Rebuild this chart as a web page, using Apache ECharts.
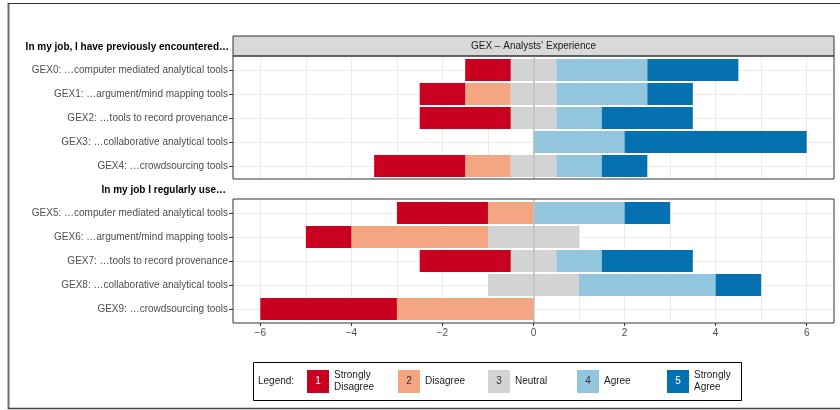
<!DOCTYPE html>
<html>
<head>
<meta charset="utf-8">
<script src="https://cdn.jsdelivr.net/npm/echarts@6/dist/echarts.min.js"></script>
<style>
html, body { margin: 0; padding: 0; background: #fff; }
#chart { width: 840px; height: 410px; }
</style>
</head>
<body>
<div id="chart"></div>
<script>
// question labels, one list per panel
var topItems = [
	'GEX0: …computer mediated analytical tools',
	'GEX1: …argument/mind mapping tools',
	'GEX2: …tools to record provenance',
	'GEX3: …collaborative analytical tools',
	'GEX4: …crowdsourcing tools'
];
var bottomItems = [
	'GEX5: …computer mediated analytical tools',
	'GEX6: …argument/mind mapping tools',
	'GEX7: …tools to record provenance',
	'GEX8: …collaborative analytical tools',
	'GEX9: …crowdsourcing tools'
];
var topHeader = 'In my job, I have previously encountered…';
var bottomHeader = 'In my job I regularly use…';
var stripTitle = 'GEX – Analysts\u2019 Experience';

// answer counts per level (1..5)
var topSD = [1, 1, 2, 0, 2];
var topD  = [0, 1, 0, 0, 1];
var topN  = [1, 1, 1, 0, 1];
var topA  = [2, 2, 1, 2, 1];
var topSA = [2, 1, 2, 4, 1];

var botSD = [2, 1, 2, 0, 3];
var botD  = [1, 3, 0, 0, 3];
var botN  = [0, 2, 1, 2, 0];
var botA  = [2, 0, 1, 3, 0];
var botSA = [1, 0, 2, 1, 0];

var levelNames = ['Strongly Disagree', 'Disagree', 'Neutral', 'Agree', 'Strongly Agree'];
var legendTexts = ['Strongly\nDisagree', 'Disagree', 'Neutral', 'Agree', 'Strongly\nAgree'];
var levelColors = ['#CA0020', '#F4A582', '#D3D3D3', '#92C5DE', '#0571B0'];

var xTicks = [-6, -4, -2, 0, 2, 4, 6];
var xGridVals = [-6, -5, -4, -3, -2, -1, 0, 1, 2, 3, 4, 5, 6];
var yGridVals = [0, 1, 2, 3, 4];

var FONT = '"Liberation Sans", Arial, sans-serif';
var FS = 10;
var PL = 233, PW = 601;
// panel = bordered box, grid = band area used by the axes (24px per row)
var panels = [
	{ top: 56, bottom: 179, gridTop: 58, gridH: 120 },
	{ top: 199, bottom: 323, gridTop: 201, gridH: 120 }
];

function minus(v) { return v < 0 ? '\u2212' + (-v) : '' + v; }
function neg(arr) { return arr.map(function (v) { return -v; }); }
function half(arr, s) { return arr.map(function (v) { return s * v / 2; }); }

function panelSeries(p, sd, d, n, a, sa) {
	var ax = p * 2;
	function bar(li, vals) {
		return {
			type: 'bar',
			name: levelNames[li],
			xAxisIndex: ax,
			yAxisIndex: ax,
			stack: 'p' + p,
			barWidth: 22,
			itemStyle: { color: levelColors[li] },
			data: vals
		};
	}
	var list = [
		bar(2, half(n, -1)),
		bar(1, neg(d)),
		bar(0, neg(sd)),
		bar(2, half(n, 1)),
		bar(3, a),
		bar(4, sa)
	];
	// zero reference line, drawn over the bars
	list[5].markLine = {
		silent: true,
		symbol: 'none',
		label: { show: false },
		lineStyle: { color: '#BEBEBE', width: 1.5, type: 'solid' },
		data: [[{ xAxis: 0, y: panels[p].top }, { xAxis: 0, y: panels[p].bottom }]]
	};
	return list;
}

var xAxes = [], yAxes = [];
panels.forEach(function (pn, i) {
	xAxes.push({
		type: 'value', gridIndex: i, min: -6.6, max: 6.6, offset: pn.bottom - pn.gridTop - pn.gridH,
		axisLine: { show: false, onZero: false },
		axisTick: { show: i === 1, length: 3, lineStyle: { color: '#333' }, customValues: xTicks },
		axisLabel: { show: i === 1, customValues: xTicks, formatter: minus, color: '#4D4D4D', fontSize: FS, fontFamily: FONT, margin: 5 },
		splitLine: { show: false }
	});
	xAxes.push({
		type: 'value', gridIndex: i, min: -6.6, max: 6.6, position: 'top',
		axisLine: { show: false, onZero: false },
		axisTick: { show: false, customValues: xGridVals },
		axisLabel: { show: false },
		splitLine: { show: true, lineStyle: { color: '#EBEBEB', width: 1 } }
	});
	yAxes.push({
		type: 'category', gridIndex: i, inverse: true,
		data: i === 0 ? topItems : bottomItems,
		axisLine: { show: false, onZero: false },
		axisTick: { show: true, alignWithLabel: true, length: 4, lineStyle: { color: '#333' } },
		axisLabel: { color: '#4D4D4D', fontSize: FS, fontFamily: FONT, margin: 5 },
		splitLine: { show: false }
	});
	yAxes.push({
		type: 'value', gridIndex: i, inverse: true, min: -0.5, max: 4.5, position: 'right',
		axisLine: { show: false, onZero: false },
		axisTick: { show: false, customValues: yGridVals },
		axisLabel: { show: false },
		splitLine: { show: true, lineStyle: { color: '#EBEBEB', width: 1 } }
	});
});

function txt(x, y, s, opt) {
	opt = opt || {};
	return {
		type: 'text', silent: true, z: 10,
		style: {
			x: x, y: y, text: s,
			fill: opt.fill || '#1A1A1A',
			font: (opt.bold ? 'bold ' : '') + FS + 'px ' + FONT,
			align: opt.align || 'left', textAlign: opt.align || 'left',
			verticalAlign: 'middle', textVerticalAlign: 'middle',
			lineHeight: 12
		}
	};
}

var graphics = [
	// outer frame
	{ type: 'line', silent: true, shape: { x1: 8.5, y1: 3, x2: 8.5, y2: 409 }, style: { stroke: '#6E6E6E', lineWidth: 2 } },
	{ type: 'line', silent: true, shape: { x1: 8, y1: 3.5, x2: 840, y2: 3.5 }, style: { stroke: '#333', lineWidth: 1.2 } },
	{ type: 'line', silent: true, shape: { x1: 8, y1: 408.5, x2: 840, y2: 408.5 }, style: { stroke: '#444', lineWidth: 1.5 } },
	// facet strip
	{ type: 'rect', silent: true, shape: { x: PL, y: 36, width: PW, height: 20 }, style: { fill: '#D9D9D9', stroke: '#333', lineWidth: 1 } },
	txt(PL + PW / 2, 46.5, stripTitle, { align: 'center', fill: '#1A1A1A' }),
	txt(229, 47, topHeader, { align: 'right', bold: true, fill: '#000' }),
	txt(226, 190, bottomHeader, { align: 'right', bold: true, fill: '#000' }),
	// legend box
	{ type: 'rect', silent: true, shape: { x: 253.5, y: 362.5, width: 488, height: 38 }, style: { fill: 'none', stroke: '#000', lineWidth: 1 } },
	txt(258, 381.5, 'Legend:')
];
// panel borders
panels.forEach(function (pn) {
	graphics.push({ type: 'rect', silent: true, z: 9, shape: { x: PL, y: pn.top, width: PW, height: pn.bottom - pn.top }, style: { fill: 'none', stroke: '#333', lineWidth: 1 } });
});
var keyX = [307, 398, 488, 577, 667];
levelColors.forEach(function (c, i) {
	graphics.push({ type: 'rect', silent: true, shape: { x: keyX[i], y: 370, width: 22, height: 23 }, style: { fill: c } });
	graphics.push(txt(keyX[i] + 11, 381.5, '' + (i + 1), { align: 'center', fill: (i === 0 || i === 4) ? '#fff' : '#333' }));
	graphics.push(txt(keyX[i] + 27, 381.5, legendTexts[i], { fill: '#1A1A1A' }));
});

var option = {
	animation: false,
	backgroundColor: '#fff',
	textStyle: { fontFamily: FONT },
	grid: panels.map(function (pn) {
		return { left: PL, top: pn.gridTop, width: PW, height: pn.gridH, show: false };
	}),
	xAxis: xAxes,
	yAxis: yAxes,
	series: panelSeries(0, topSD, topD, topN, topA, topSA).concat(panelSeries(1, botSD, botD, botN, botA, botSA)),
	graphic: graphics
};

var myChart = echarts.init(document.getElementById('chart'));
myChart.setOption(option);
</script>
</body>
</html>
